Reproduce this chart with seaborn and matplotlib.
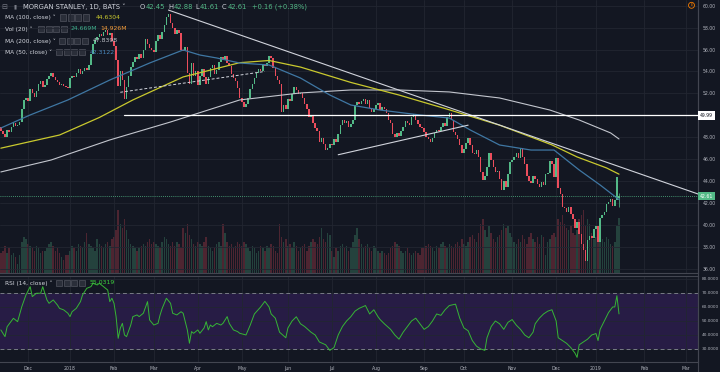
"""
Morgan Stanley daily chart, TradingView dark theme look-alike.
Candles + MA(50/100/200) + volume + hand drawn trendlines, RSI pane below.
"""

import numpy as np
import pandas as pd
import matplotlib
matplotlib.use("Agg")
import matplotlib.pyplot as plt
import matplotlib.transforms as mtrans
from matplotlib.patches import Rectangle
from matplotlib.lines import Line2D
import seaborn as sns

# ----------------------------- #
#  Data, one bar per trading day
# ----------------------------- #
first_open = 48.9
closes = (
    [48.6, 48.3, 48.0, 48.7, 48.5, 48.9, 49.3, 49.0, 49.1, 49.4, 50.6, 51.4, 51.6]  # Nov 17
    + [51.3, 52.4, 52.0, 51.7, 52.2, 52.9, 53.1, 52.6, 52.8, 53.3, 53.6, 53.9, 53.5, 53.2,
       53.0, 52.8, 52.9, 52.7, 52.6, 52.5]  # Dec 17
    + [53.4, 53.6, 53.5, 53.9, 54.2, 53.8, 54.0, 54.3, 54.1, 54.6, 55.6, 56.5, 56.9, 57.1,
       57.4, 57.2, 57.6, 57.8, 57.3, 57.5, 56.8]  # Jan
    + [56.3, 55.0, 52.7, 54.0, 53.2, 51.5, 52.6, 53.6, 54.4, 54.9, 55.3, 55.1, 55.6, 55.2,
       56.0, 57.0, 56.5, 56.1, 56.0]  # Feb
    + [55.8, 56.8, 57.3, 57.0, 57.6, 58.2, 59.0, 59.2, 58.4, 58.0, 57.4, 57.8, 57.5, 56.0,
       55.9, 56.2, 53.9, 52.9, 54.8, 53.6, 54.0]  # Mar
    + [52.8, 53.6, 54.2, 53.5, 52.9, 53.5, 54.3, 54.6, 53.8, 54.1, 54.9, 55.3, 55.0, 55.4,
       54.8, 54.5, 53.8, 53.4, 53.1, 52.5, 51.6]  # Apr
    + [51.2, 50.8, 51.0, 51.6, 52.4, 52.9, 53.4, 53.9, 54.2, 54.0, 54.6, 54.5, 54.8, 55.4,
       55.2, 54.3, 53.6, 53.2, 52.9, 50.3, 50.9, 50.6]  # May
    + [51.5, 51.3, 51.9, 52.6, 52.3, 51.9, 52.0, 51.6, 51.0, 50.6, 49.8, 49.9, 49.3, 48.8,
       48.6, 47.6, 47.9, 47.4, 46.8, 47.0, 47.4]  # Jun
    + [47.3, 47.8, 47.6, 48.3, 49.1, 49.6, 49.3, 49.5, 48.9, 49.2, 49.6, 50.9, 51.2, 51.0,
       51.3, 51.5, 51.0, 51.4, 50.7, 50.3, 50.6]  # Jul
    + [50.9, 51.1, 50.5, 50.8, 50.6, 50.2, 49.6, 49.3, 48.3, 48.0, 48.4, 48.1, 48.6, 48.9,
       49.5, 49.3, 49.1, 49.8, 50.1, 49.6, 49.2, 48.9, 48.8]  # Aug
    + [48.5, 48.0, 47.8, 47.6, 47.9, 48.4, 48.7, 48.6, 48.9, 49.3, 49.0, 49.8, 50.2, 49.6,
       48.5, 48.2, 47.8, 47.3, 46.6]  # Sep
    + [46.9, 47.5, 47.9, 47.3, 46.6, 46.5, 46.8, 46.2, 44.8, 44.1, 44.5, 45.3, 46.6, 45.9,
       45.3, 44.8, 44.9, 44.2, 43.2, 44.0, 43.5, 44.6, 45.7]  # Oct
    + [45.9, 46.2, 46.6, 46.1, 47.0, 46.2, 45.6, 44.5, 44.0, 43.8, 44.5, 44.2, 43.7, 43.5,
       43.9, 43.6, 44.6, 44.7, 45.8, 45.6, 44.4]  # Nov
    + [46.1, 43.4, 42.8, 41.6, 41.5, 41.2, 41.6, 41.0, 40.5, 39.7, 40.3, 39.2, 38.3, 37.7,
       36.7, 38.6, 39.0, 38.8, 39.6]  # Dec
    + [39.9, 38.4, 40.6, 40.9, 41.2, 41.9, 42.1, 42.4, 41.7, 42.3, 44.4, 42.61]  # Jan 19
)
volumes = (
    [9, 10, 12, 9, 11, 8, 9, 7, 4, 8, 14, 16, 15]
    + [13, 12, 11, 10, 12, 11, 9, 10, 10, 11, 13, 14, 12, 10, 11, 9, 7, 6, 8, 8]
    + [10, 12, 11, 10, 13, 12, 11, 14, 18, 13, 12, 11, 10, 15, 13, 12, 11, 13, 14, 12, 15]
    + [16, 19, 28, 22, 20, 24, 19, 15, 13, 12, 11, 10, 11, 12, 13, 12, 14, 15, 13]
    + [14, 13, 12, 11, 14, 16, 15, 13, 12, 14, 12, 14, 13, 11, 20, 18, 22, 17, 15, 13, 12]
    + [14, 13, 12, 14, 16, 12, 11, 10, 11, 13, 14, 12, 22, 18, 14, 12, 13, 11, 12, 14, 13]
    + [12, 14, 13, 11, 10, 12, 11, 9, 10, 12, 11, 10, 12, 11, 13, 12, 10, 9, 22, 16, 14, 15]
    + [12, 13, 11, 14, 12, 10, 11, 12, 13, 10, 12, 14, 15, 14, 13, 16, 20, 15, 14, 18, 17]
    + [10, 7, 11, 10, 12, 13, 11, 12, 10, 11, 14, 17, 20, 15, 13, 11, 12, 13, 11, 10, 12]
    + [11, 10, 9, 10, 9, 8, 9, 11, 12, 14, 13, 12, 10, 9, 10, 11, 9, 8, 9, 10, 9, 8, 11]
    + [11, 12, 13, 12, 11, 10, 12, 11, 13, 14, 12, 11, 13, 12, 11, 13, 14, 12, 15]
    + [13, 12, 14, 16, 17, 15, 14, 18, 22, 24, 19, 16, 21, 18, 15, 14, 16, 17, 19, 22, 20, 21, 18]
    + [16, 14, 13, 15, 14, 17, 15, 13, 16, 18, 15, 14, 16, 13, 17, 16, 8, 14, 15, 17, 18]
    + [16, 24, 23, 26, 22, 20, 19, 21, 18, 17, 19, 24, 26, 28, 21, 24, 22, 18, 15]
    + [16, 18, 17, 15, 14, 16, 15, 13, 12, 14, 21, 24.669]
)
last_ohlc = (42.45, 42.88, 41.61, 42.61)

# moving averages, sampled along the drawn curves (bar index, price)
ma50_bar = [0, 14, 32, 52, 71, 87, 95, 103, 114, 128, 143, 157, 167, 181, 200, 214, 224,
            238, 253, 264, 276, 286, 295]
ma50_val = [48.84, 50.03, 51.40, 53.22, 54.77, 55.96, 55.50, 55.23, 54.77, 54.59, 53.40,
            51.85, 50.94, 50.48, 50.03, 49.75, 48.66, 47.29, 46.83, 46.83, 45.01, 43.64, 42.31]
ma100_bar = [0, 28, 47, 63, 87, 114, 128, 143, 167, 190, 214, 238, 263, 275, 289, 295]
ma100_val = [47.0, 48.2, 49.8, 51.4, 53.5, 54.8, 55.0, 54.4, 53.0, 51.85, 50.5, 49.1,
             47.3, 46.2, 45.2, 44.63]
ma200_bar = [0, 24, 52, 81, 114, 143, 167, 190, 214, 238, 262, 276, 291, 295]
ma200_val = [44.83, 45.92, 47.75, 49.39, 51.40, 52.04, 52.31, 52.31, 52.13, 51.58, 50.48,
             49.57, 48.39, 47.84]

rsi_bar = [0, 2, 3, 6, 8, 10, 12, 14, 15, 17, 19, 20, 22, 23, 25, 27, 28, 30, 32, 33, 34, 36,
           38, 39, 41, 43, 44, 46, 47, 49, 51, 52, 53, 54, 55, 56, 57, 58, 59, 60, 61, 62, 63,
           65, 66, 68, 70, 71, 73, 75, 76, 77, 79, 81, 82, 84, 86, 87, 89, 90, 91, 92, 94, 95,
           97, 98, 99, 100, 101, 103, 105, 106, 108, 109, 111, 113, 114,
           117, 119, 121, 124, 126, 128, 129, 131, 133, 136, 137, 139, 141, 143, 145, 148, 150,
           152, 155, 157, 159, 161, 163, 165, 167, 169, 171, 174, 176, 178, 180, 181, 183, 186,
           188, 190, 192, 194, 196, 198, 200, 202, 204, 206, 208, 210, 212, 214, 217, 219, 221,
           223, 225, 227, 229, 231, 232, 234, 236, 238, 240, 242, 244, 246, 248, 250, 252, 254,
           255, 257, 259, 261, 263, 265, 266, 268, 270, 272, 274, 275, 276, 278, 280, 282, 284,
           285, 286, 288, 290, 292, 293, 294, 295]
rsi_val = [43.6, 38.8, 45.9, 51.9, 49.5, 60.2, 68.6, 74.5, 67.4, 69.8, 69.8, 74.5, 65.0, 62.6,
           65.0, 61.4, 59.0, 57.9, 55.5, 53.1, 56.6, 59.0, 63.8, 68.6, 73.3, 74.5, 76.9, 75.7,
           76.9, 74.5, 72.1, 63.8, 66.2, 62.6, 53.1, 37.6, 44.8, 48.3, 40.0, 38.8, 43.0, 47.1,
           53.1, 54.3, 53.1, 55.5, 63.8, 50.7, 47.1, 48.3, 54.3, 59.0, 66.2, 62.6, 55.5, 54.3,
           56.6, 55.5, 43.6, 34.1, 42.4, 41.2, 43.6, 41.2, 45.0, 49.5, 43.6, 47.1, 45.9, 48.3,
           47.1, 48.3, 53.1, 48.3, 43.6, 42.4, 41.2,
           40, 47, 55, 60, 64, 60, 55, 52, 42, 38, 45, 50, 53, 48, 46, 42, 40,
           35, 33, 29, 31, 40, 46, 50, 53, 57, 59, 61, 55, 58, 53, 51, 48, 44,
           40, 37, 42, 46, 50, 52, 48, 44, 46, 50, 55, 54, 58, 61, 62, 52, 45,
           43, 36, 32, 30, 29, 38, 46, 50, 48, 44, 49, 51, 47, 44, 40, 38, 42,
           48, 52, 55, 57, 58, 50, 38, 36, 34, 31, 27, 24, 33, 35, 37, 40, 41,
           36, 44, 50, 56, 60, 60, 68, 55.03]

# drawings: (bar, price) end points
trend_down = ([80, 333], [59.6, 42.8])
trend_up = ([161, 223], [46.4, 49.1])
trend_dash = ([57, 126], [52.1, 54.0])
level_line = ([59, 333], [49.99, 49.99])

month_bars = [13, 33, 54, 73, 94, 115, 137, 158, 179, 202, 221, 244, 265, 284, 307, 327]
month_labels = ['Dec', '2018', 'Feb', 'Mar', 'Apr', 'May', 'Jun', 'Jul', 'Aug', 'Sep',
                'Oct', 'Nov', 'Dec', '2019', 'Feb', 'Mar']
price_ticks = [36, 38, 40, 42, 44, 46, 48, 50, 52, 54, 56, 58, 60]
rsi_ticks = [30, 40, 50, 60, 70, 80]

# ----------------------------- #
#  Colours
# ----------------------------- #
BG = '#131722'
GRID = '#222631'
AXLINE = '#434651'
TXT = '#b2b5be'
UP = '#53b987'
DOWN = '#eb4d5c'
C_MA50 = '#3f77a3'
C_MA100 = '#c9c92e'
C_MA200 = '#c3c6ce'
C_RSI = '#36b536'
C_BAND = '#271c45'

sns.set_theme(style='dark', rc={'axes.facecolor': BG, 'figure.facecolor': BG,
                                'grid.color': GRID, 'axes.edgecolor': AXLINE})
plt.rcParams['font.family'] = ['DejaVu Sans']

# ----------------------------- #
#  Frame
# ----------------------------- #
df = pd.DataFrame({'close': closes, 'volume': volumes})
df['bar'] = np.arange(len(df))
df['open'] = [first_open] + closes[:-1]
df.loc[df.index[-1], 'open'] = last_ohlc[0]
df['up'] = df['close'] >= df['open']

W, H = 720, 372
fig = plt.figure(figsize=(W / 100, H / 100), dpi=100, facecolor=BG)


def fx(x):
    return x / W


def fy(y):
    return 1 - y / H


ax = fig.add_axes([0, fy(273), fx(698), 273 / H])
axv = ax.twinx()
axr = fig.add_axes([0, fy(362), fx(698), (362 - 276) / H], sharex=ax)

ax.set_zorder(2)
axv.set_zorder(1)
ax.patch.set_visible(False)
axv.patch.set_facecolor(BG)

# volume
axv.bar(df['bar'], df['volume'], width=0.7,
        color=np.where(df['up'], UP, DOWN), alpha=0.27, linewidth=0)
axv.set_ylim(0, 122)
axv.set_yticks([])
axv.grid(False)
for s in axv.spines.values():
    s.set_visible(False)

# candles
body = (df['close'] - df['open']).abs().clip(lower=0.06)
bottom = df[['open', 'close']].min(axis=1)
ax.bar(df['bar'], body, bottom=bottom, width=0.72,
       color=np.where(df['up'], UP, DOWN), linewidth=0, zorder=3)
ax.vlines(df['bar'].iloc[-1], last_ohlc[2], last_ohlc[1], color=UP, lw=0.5, zorder=3)

# moving averages
sns.lineplot(x=ma200_bar, y=ma200_val, ax=ax, color=C_MA200, lw=0.8, zorder=4)
sns.lineplot(x=ma100_bar, y=ma100_val, ax=ax, color=C_MA100, lw=0.9, zorder=4)
sns.lineplot(x=ma50_bar, y=ma50_val, ax=ax, color=C_MA50, lw=0.9, zorder=4)

# drawings
ax.plot(*trend_down, color='#d1d4dc', lw=0.8, zorder=5)
ax.plot(*trend_up, color='#d1d4dc', lw=0.8, zorder=5)
ax.plot(*trend_dash, color='#d1d4dc', lw=0.7, ls=(0, (3, 2)), zorder=5)
ax.plot(*level_line, color='#ffffff', lw=0.9, zorder=5)
ax.axhline(last_ohlc[3], color=UP, lw=0.6, ls=(0, (1, 1.5)), zorder=5)

ax.set_xlim(-0.4, 332.7)
ax.set_ylim(35.61, 60.52)
ax.set_xticks(month_bars)
ax.yaxis.tick_right()
# the 50.00 label sits under the 49.99 marker box, as on the screenshot
ax.set_yticks(price_ticks, labels=['' if v == 50 else f'{v:.2f}' for v in price_ticks])
ax.tick_params(axis='x', length=0, labelbottom=False)
ax.tick_params(axis='y', length=0, labelsize=3.3, labelcolor=TXT, pad=3.2,
               left=False, labelleft=False, right=False, labelright=True)
ax.grid(True, color=GRID, lw=0.6)
ax.set_xlabel('')
ax.set_ylabel('')
for name, s in ax.spines.items():
    s.set_visible(name in ('right', 'bottom'))
    s.set_color(AXLINE)
    s.set_linewidth(0.8)

# ----------------------------- #
#  RSI pane
# ----------------------------- #
axr.set_facecolor(BG)
axr.axhspan(30, 70, color=C_BAND, zorder=0, lw=0)
axr.axhline(70, color='#787b86', lw=0.7, ls=(0, (4, 3)), zorder=1)
axr.axhline(30, color='#787b86', lw=0.7, ls=(0, (4, 3)), zorder=1)
sns.lineplot(x=rsi_bar, y=rsi_val, ax=axr, color=C_RSI, lw=0.7, zorder=3)
axr.set_ylim(20.7, 82.1)
axr.set_xticks(month_bars, labels=month_labels)
axr.yaxis.tick_right()
axr.set_yticks(rsi_ticks, labels=[f'{v:.4f}' for v in rsi_ticks])
axr.tick_params(axis='x', length=0, labelsize=3.3, labelcolor=TXT, pad=3)
axr.tick_params(axis='y', length=0, labelsize=3.1, labelcolor=TXT, pad=2.6,
                left=False, labelleft=False, right=False, labelright=True)
axr.grid(True, color=GRID, lw=0.6)
axr.set_xlabel('')
axr.set_ylabel('')
for name, s in axr.spines.items():
    s.set_visible(name in ('right', 'bottom', 'top'))
    s.set_color(AXLINE)
    s.set_linewidth(0.8)
ax.set_xlim(-0.4, 332.7)

fig.add_artist(Line2D([fx(698), fx(698)], [0, 1], color=AXLINE, lw=0.8))

# price labels on the scale
tr = mtrans.blended_transform_factory(fig.transFigure, ax.transData)
ax.text(fx(700), 49.99, '49.99', transform=tr, fontsize=3.3, color='#131722',
        va='center', ha='left', clip_on=False, zorder=10,
        bbox=dict(boxstyle='square,pad=0.35', fc='#ffffff', ec='none'))
ax.text(fx(700), last_ohlc[3], f'{last_ohlc[3]:.2f}', transform=tr, fontsize=3.3,
        color='#ffffff', va='center', ha='left', clip_on=False, zorder=10,
        bbox=dict(boxstyle='square,pad=0.35', fc=UP, ec='none'))

# ----------------------------- #
#  Legends (top left)
# ----------------------------- #
def label(x, y, s, color='#d1d4dc', size=4.2, **kw):
    fig.text(fx(x), fy(y), s, color=color, fontsize=size, va='center', ha='left', **kw)


def icons(x, y):
    for i in range(4):
        fig.add_artist(Rectangle((fx(x + i * 7.5), fy(y + 3.2)), 6.4 / W, 6.4 / H,
                                 transform=fig.transFigure, fc='#2a2e39', ec='#5d606b',
                                 lw=0.4))


label(1, 7, '\u229f', color='#787b86', size=5)
label(14, 7, '\u25ae', color='#787b86', size=4)
label(23, 7, 'MORGAN STANLEY, 1D, BATS \u02c5', size=4.9)
for x, s, c in [(140, 'O', '#d1d4dc'), (145.5, '42.45', UP), (168, 'H', '#d1d4dc'),
                (173.5, '42.88', UP), (195, 'L', '#d1d4dc'), (199.5, '41.61', UP),
                (222, 'C', '#d1d4dc'), (227.5, '42.61', UP), (252, '+0.16 (+0.38%)', UP)]:
    label(x, 7, s, color=c, size=4.9)

label(5, 17.5, 'MA (100, close) \u02c5')
icons(60, 17.5)
label(96, 17.5, '44.6304', color=C_MA100, size=4.4)

label(5, 29, 'Vol (20) \u02c5')
icons(38, 29)
label(71, 29, '24.669M', color='#3fae8c', size=4.4)
label(100, 29, '14.926M', color='#f39c3a', size=4.4)

label(5, 41, 'MA (200, close) \u02c5')
icons(59, 41)
label(93, 41, '47.8398', color=C_MA200, size=4.4)

label(5, 52, 'MA (50, close) \u02c5')
icons(56, 52)
label(90, 52, '42.3122', color='#4a8ac0', size=4.4)

label(5, 283, 'RSI (14, close) \u02c5')
icons(56, 283)
label(90, 283, '55.0319', color='#3fd23f', size=4.4)

fig.text(fx(691.5), fy(5.3), 'E', color='#f57c00', fontsize=2.8, ha='center', va='center',
         bbox=dict(boxstyle='circle,pad=0.25', fc='none', ec='#f57c00', lw=0.6))

fig.savefig('out.png', dpi=100, facecolor=BG)
